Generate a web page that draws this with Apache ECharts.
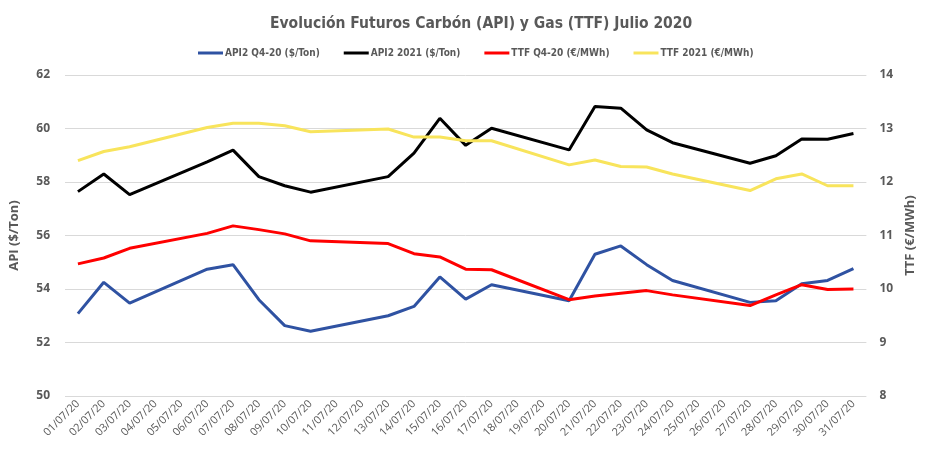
<!DOCTYPE html>
<html>
<head>
<meta charset="utf-8">
<script src="https://cdn.jsdelivr.net/npm/echarts@6/dist/echarts.min.js"></script>
<style>
	html, body { margin: 0; padding: 0; background: #fff; }
	#chart { width: 925px; height: 450px; }
</style>
</head>
<body>
<div id="chart"></div>
<script>
// dates of July 2020; weekends have no quote (null), the line just bridges them
var dates = [
	'01/07/20', '02/07/20', '03/07/20', '04/07/20', '05/07/20', '06/07/20', '07/07/20', '08/07/20',
	'09/07/20', '10/07/20', '11/07/20', '12/07/20', '13/07/20', '14/07/20', '15/07/20', '16/07/20',
	'17/07/20', '18/07/20', '19/07/20', '20/07/20', '21/07/20', '22/07/20', '23/07/20', '24/07/20',
	'25/07/20', '26/07/20', '27/07/20', '28/07/20', '29/07/20', '30/07/20', '31/07/20'
];

var api2Q420 = [
	53.08, 54.25, 53.47, null, null, 54.74, 54.91, 53.60,
	52.63, 52.42, null, null, 53.00, 53.35, 54.45, 53.62,
	54.16, null, null, 53.56, 55.30, 55.61, 54.91, 54.32,
	null, null, 53.50, 53.56, 54.20, 54.32, 54.76
];
var api2_2021 = [
	57.64, 58.30, 57.53, null, null, 58.75, 59.19, 58.20,
	57.86, 57.62, null, null, 58.20, 59.08, 60.38, 59.37,
	60.01, null, null, 59.20, 60.82, 60.76, 59.95, 59.47,
	null, null, 58.70, 58.98, 59.61, 59.60, 59.81
];
var ttfQ420 = [
	10.47, 10.58, 10.76, null, null, 11.04, 11.18, 11.11,
	11.03, 10.90, null, null, 10.85, 10.66, 10.60, 10.37,
	10.36, null, null, 9.80, 9.87, 9.92, 9.97, 9.89,
	null, null, 9.69, 9.89, 10.08, 9.99, 10.00
];
var ttf2021 = [
	12.40, 12.57, 12.66, null, null, 13.02, 13.10, 13.10,
	13.05, 12.94, null, null, 12.99, 12.84, 12.84, 12.77,
	12.77, null, null, 12.32, 12.41, 12.29, 12.28, 12.15,
	null, null, 11.84, 12.06, 12.15, 11.93, 11.93
];

var seriesNames = ['API2 Q4-20 ($/Ton)', 'API2 2021 ($/Ton)', 'TTF Q4-20 (€/MWh)', 'TTF 2021 (€/MWh)'];
var seriesColors = ['#2f52a2', '#000000', '#ff0000', '#f8e45c'];

var textGrey = '#595959';
var narrowFont = '"DejaVu Sans Condensed", sans-serif';
var plainFont = '"Open Sans", "Liberation Sans", sans-serif';

function makeLine(i, data, axisIndex) {
	return {
		name: seriesNames[i],
		type: 'line',
		yAxisIndex: axisIndex,
		data: data,
		connectNulls: true,
		showSymbol: false,
		symbol: 'none',
		lineStyle: { width: 3, color: seriesColors[i] },
		itemStyle: { color: seriesColors[i] }
	};
}

var yAxisCommon = {
	type: 'value',
	nameLocation: 'middle',
	nameTextStyle: { color: textGrey, fontSize: 13, fontWeight: 'bold', fontFamily: plainFont },
	axisLine: { show: false },
	axisTick: { show: false },
	axisLabel: { color: textGrey, fontSize: 12, fontWeight: 'bold', fontFamily: plainFont }
};

var chart = echarts.init(document.getElementById('chart'));
chart.setOption({
	animation: false,
	title: {
		text: 'Evolución Futuros Carbón (API) y Gas (TTF) Julio 2020',
		left: 265,
		top: 11,
		textStyle: { color: textGrey, fontSize: 15.5, fontWeight: 'bold', fontFamily: narrowFont }
	},
	legend: {
		top: 43,
		left: 193,
		itemWidth: 25,
		itemHeight: 3,
		itemGap: 24,
		icon: 'rect',
		textStyle: { color: textGrey, fontSize: 10, fontWeight: 'bold', fontFamily: narrowFont, padding: [0, 0, 0, -3] },
		data: seriesNames
	},
	grid: { left: 63, right: 45, top: 75, bottom: 54 },
	xAxis: {
		type: 'category',
		data: dates,
		boundaryGap: true,
		axisLine: { show: false },
		axisTick: { show: false },
		axisLabel: { interval: 0, rotate: 45, color: textGrey, fontSize: 11, fontFamily: plainFont, margin: 6 }
	},
	yAxis: [
		Object.assign({}, yAxisCommon, {
			name: 'API ($/Ton)',
			nameGap: 44,
			min: 50, max: 62, interval: 2,
			axisLabel: Object.assign({}, yAxisCommon.axisLabel, { margin: 15 }),
			splitLine: { show: true, lineStyle: { color: '#d9d9d9', width: 1 } }
		}),
		Object.assign({}, yAxisCommon, {
			name: 'TTF (€/MWh)',
			nameGap: 32,
			position: 'right',
			min: 8, max: 14, interval: 1,
			axisLabel: Object.assign({}, yAxisCommon.axisLabel, { margin: 13 }),
			splitLine: { show: false }
		})
	],
	series: [
		makeLine(0, api2Q420, 0),
		makeLine(1, api2_2021, 0),
		makeLine(2, ttfQ420, 1),
		makeLine(3, ttf2021, 1)
	]
});
</script>
</body>
</html>
